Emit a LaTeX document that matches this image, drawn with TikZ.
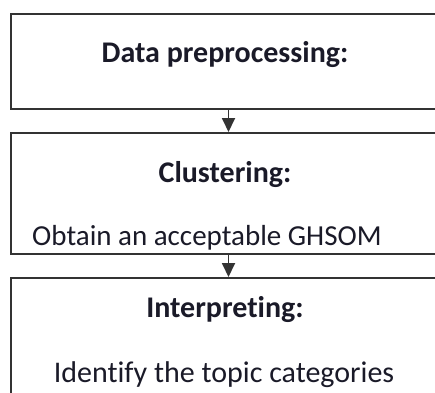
\documentclass[tikz,border=0pt]{standalone}
\usepackage{fontspec}
\setmainfont[Ligatures=NoCommon,RawFeature=-liga]{Carlito}
\usetikzlibrary{arrows.meta}
\definecolor{boxline}{HTML}{333333}
\definecolor{txt}{HTML}{1A1A28}
\tikzset{
  stage/.style={draw=boxline, line width=2pt, fill=white, rectangle, anchor=north west, minimum width=435pt, inner sep=0pt},
  head/.style={font=\fontsize{30}{33}\selectfont\bfseries, text=txt, anchor=base, inner sep=0pt},
  body/.style={font=\fontsize{30}{33}\selectfont, text=txt, inner sep=0pt},
  flow/.style={draw=boxline, line width=1.8pt, -{Triangle[width=13pt,length=14pt]}}
}
\begin{document}
\begin{tikzpicture}[x=1pt,y=-1pt]
\clip (0,0) rectangle (435,392);
\fill[white] (0,0) rectangle (435,392);
\node[stage, minimum height=95pt] (b1) at (10,13) {};
\node[stage, minimum height=121pt] (b2) at (10,132) {};
\node[stage, minimum height=130pt] (b3) at (10,277) {};
\node[head] (t1) at (225,62) {Data preprocessing:};
\node[head] (t2) at (225,182) {Clustering:};
\node[body, anchor=base west, font=\fontsize{29}{32}\selectfont] (s2) at (32,245) {Obtain an acceptable GHSOM};
\node[head] (t3) at (225,317) {Interpreting:};
\node[body, anchor=base] (s3) at (224,382) {Identify the topic categories};
\draw[flow] (b1.south) -- (b2.north);
\draw[flow] (b2.south) -- (b3.north);
\end{tikzpicture}
\end{document}
